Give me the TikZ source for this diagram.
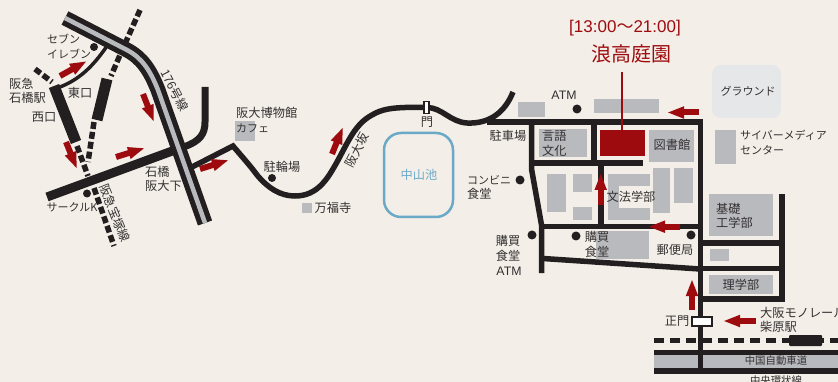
\documentclass[tikz,border=0pt]{standalone}
\usepackage{fontspec}
\setmainfont{Noto Sans CJK JP}
\newfontfamily\latinf{Liberation Sans}
\usetikzlibrary{arrows.meta}
\definecolor{bgc}{HTML}{F3EEE7}
\definecolor{ink}{HTML}{231F20}
\definecolor{txtc}{HTML}{333031}
\definecolor{grayb}{HTML}{B9BABD}
\definecolor{groundc}{HTML}{E6E7E8}
\definecolor{redc}{HTML}{9E0B0F}
\definecolor{pondc}{HTML}{6BA9C8}
\newcommand{\kanasize}{\fontsize{11}{14.5}\selectfont}
\tikzset{
  x=1pt,y=-1pt,
  lbl/.style={inner sep=0pt,text=txtc,font=\fontsize{12.2}{14.5}\selectfont,align=left},
  kana/.style={lbl,font=\kanasize},
  bldg/.style={fill=grayb,draw=none},
  road/.style={draw=ink,line width=5.5pt},
  railblock/.style={draw=ink,line width=11pt},
  raildash/.style={draw=ink,line width=5.5pt,dash pattern=on 7pt off 3pt},
  redarrow/.style={draw=redc,line width=6pt,-{Triangle[length=17pt,width=11pt,fill=redc]}},
  dot/.style={circle,fill=ink,inner sep=0pt,minimum size=9pt},
}
\begin{document}
\begin{tikzpicture}
\useasboundingbox (0,0) rectangle (838,382);
\clip (0,0) rectangle (838,382);
\fill[bgc] (0,0) rectangle (838,382);
% buildings
\fill[groundc,rounded corners=9pt] (712,65) rectangle (781,118);
\fill[bldg] (518,102) rectangle (545,117);
\fill[bldg] (594,99) rectangle (659,113);
\fill[bldg] (539,129) rectangle (587,157);
\fill[bldg] (649,130) rectangle (694,162);
\fill[bldg] (715,130) rectangle (736,164);
\fill[bldg] (547,174) rectangle (566,212);
\fill[bldg] (573,174) rectangle (592,192);
\fill[bldg] (573,207) rectangle (592,220);
\fill[bldg] (607.7,174) rectangle (650,186);
\fill[bldg] (607.7,174) rectangle (619,220);
\fill[bldg] (607.7,208) rectangle (650,220);
\fill[bldg] (653,168) rectangle (670,213);
\fill[bldg] (674,168) rectangle (693,203);
\fill[bldg] (709,194) rectangle (773,236);
\fill[bldg] (710,249) rectangle (729,261);
\fill[bldg] (709,275) rectangle (773,294);
\fill[bldg] (596,231) rectangle (649,259);
\fill[bldg] (235,121) rectangle (255,141);
\fill[bldg] (302,203) rectangle (312,213);
% expressway
\fill[bldg] (654,355) rectangle (838,369);
\fill[ink] (654,349.5) rectangle (838,355);
\fill[ink] (654,368) rectangle (838,373.5);
% pond
\node[draw=pondc,line width=2.5pt,rounded corners=17pt,minimum width=69pt,minimum height=84pt,inner sep=0pt] (pond) at (418.5,175) {};
% left railways
\draw[raildash] (140,10) -- (120,55) -- (111,76);
\draw[railblock] (107,79) -- (97,120);
\draw[raildash] (94,122) -- (88,162);
\draw[raildash] (35,69) -- (52,82);
\draw[railblock] (54,86) -- (76,142);
\draw[raildash] (77,146) -- (88,176);
\draw[raildash] (94,188) -- (114,246);
% small road
\draw[draw=ink,line width=3.5pt] (107,46) .. controls (92,68) and (78,80) .. (60,87);
% road through Ishibashi
\draw[draw=ink,line width=9pt] (47,197) -- (175,150);
\draw[draw=ink,line width=7pt] (175,150) -- (185,146.5) .. controls (200,141) and (205,134) .. (205,122) -- (205,87);
% Handai-zaka road
\draw[road] (190,168) -- (233,146) .. controls (245,160) and (252,168) .. (257,175) .. controls (268,188) and (280,196) .. (295,196) .. controls (318,196) and (328,178) .. (337,162) .. controls (348,142) and (355,124) .. (372,115) .. controls (382,109) and (392,108) .. (405,107.5) -- (427,107.5) .. controls (442,107.5) and (450,122) .. (467,123) .. controls (490,124) and (505,112) .. (513,92);
% highway 176
\draw[draw=ink,line width=15pt] (65,18) -- (127,50) .. controls (142,58) and (150,70) .. (158,90) -- (205,223);
\draw[draw=grayb,line width=4.5pt] (65,18) -- (127,50) .. controls (142,58) and (150,70) .. (158,90) -- (205,223);
% campus roads
\draw[road] (487,122) -- (703,122);
\draw[road] (700.7,122) -- (700.7,369);
\draw[road] (531.7,122) -- (531.7,170) -- (541.7,226) -- (541.7,273);
\draw[road] (594,122) -- (594,163);
\draw[road] (531,163) -- (643,163);
\draw[road] (601,163) -- (601,226);
\draw[road] (541,226.5) -- (700,226.5);
\draw[road] (543,258.5) -- (700,269);
\draw[road] (700,243) -- (782,243);
\draw[road] (782,194) -- (782,301.7);
\draw[road] (700,268.5) -- (782,268.5);
\draw[road] (700,299) -- (784.7,299);
% monorail
\draw[draw=ink,line width=5pt,dash pattern=on 10pt off 6pt] (654,340) -- (838,340);
\fill[ink,rounded corners=1pt] (789,335) rectangle (822,346);
% destination
\fill[redc] (600,130) rectangle (645,156);
\draw[redc,line width=2pt] (622,72) -- (622,130);
% gates
\node[draw=ink,fill=white,line width=2pt,minimum width=20pt,minimum height=8.5pt,inner sep=0pt] (seimon) at (701.5,321.5) {};
\node[draw=ink,fill=white,line width=1.3pt,minimum width=5pt,minimum height=12.5pt,inner sep=0pt] (mongate) at (426.5,107.5) {};
% dots
\node[dot,minimum size=8pt] (d1) at (94,47) {};
\node[dot,minimum size=8pt] (d2) at (87,193.5) {};
\node[dot,minimum size=8pt] (d3) at (272,178) {};
\node[dot] (d4) at (520,180) {};
\node[dot] (d5) at (577,109) {};
\node[dot] (d6) at (532,235) {};
\node[dot] (d7) at (576,236) {};
\node[dot] (d8) at (691,235) {};
% arrows
\draw[redarrow] (60,76) -- (87,61);
\draw[redarrow] (116,157) -- (145,148);
\draw[redarrow] (66,142) -- (77,169);
\draw[redarrow] (143,94) -- (154,122);
\draw[redarrow] (200,169) -- (229,160);
\draw[redarrow] (332,154) -- (343,127);
\draw[redarrow] (699,112.5) -- (667,112.5);
\draw[redarrow] (600.7,205) -- (600.7,173);
\draw[redarrow] (680,226.7) -- (648,226.7);
\draw[redarrow] (692,310) -- (692,279);
\draw[redarrow] (756,321) -- (723,321);
% labels
\node[kana,anchor=west] (t1) at (47,46.5) {セブン\\イレブン};
\node[lbl,anchor=west] (t2) at (9,91) {阪急\\石橋駅};
\node[lbl] (t3) at (80,93) {東口};
\node[lbl] (t4) at (44,117) {西口};
\node[lbl,rotate=-63] (t5) at (175,90.5) {176号線};
\node[lbl,anchor=west] (t6) at (145,179) {石橋\\阪大下};
\node[kana] (t7) at (72,207) {サークルK};
\node[lbl,rotate=-68] (t8) at (115,213) {阪急宝塚線};
\node[lbl,anchor=west] (t9) at (236,120) {阪大博物館\\{\kanasize カフェ}};
\node[lbl] (t10) at (282,167) {駐輪場};
\node[lbl] (t11) at (333,208) {万福寺};
\node[lbl,rotate=62] (t12) at (357,150) {阪大坂};
\node[lbl] (t13) at (427,122) {門};
\node[lbl,text=pondc] (t14) at (419,175) {中山池};
\node[lbl,anchor=west] (t15) at (467,187.5) {{\kanasize コンビニ}\\食堂};
\node[lbl] (t16) at (508,136) {駐車場};
\node[lbl,font=\latinf\fontsize{12.3}{14}\selectfont] (t17) at (564,95.5) {ATM};
\node[lbl,anchor=west] (t18) at (542,143.5) {言語\\文化};
\node[lbl] (t19) at (672,145) {図書館};
\node[kana] (t20) at (748,91) {グラウンド};
\node[kana,anchor=west] (t21) at (740,142.5) {サイバーメディア\\センター};
\node[lbl] (t22) at (631,197) {文法学部};
\node[lbl,align=center] (t23) at (508,248.5) {購買\\食堂};
\node[lbl,font=\latinf\fontsize{12.3}{14}\selectfont] (t24) at (509,271.5) {ATM};
\node[lbl,align=center] (t25) at (597,244.5) {購買\\食堂};
\node[lbl] (t26) at (675,250) {郵便局};
\node[lbl,anchor=west] (t27) at (716,216) {基礎\\工学部};
\node[lbl] (t28) at (741,285) {理学部};
\node[lbl] (t29) at (677,321) {正門};
\node[lbl,anchor=west] (t30) at (760,320) {大阪モノレール\\柴原駅};
\node[lbl,font=\fontsize{10.4}{12}\selectfont] (t31) at (776,361) {中国自動車道};
\node[lbl,font=\fontsize{10.4}{12}\selectfont] (t32) at (776,380.5) {中央環状線};
\node[lbl,text=redc,font=\latinf\fontsize{17}{19}\selectfont] (t33) at (625,28.5) {[13:00{\fontspec{Noto Sans CJK JP}～}21:00]};
\node[lbl,text=redc,font=\fontsize{20}{22}\selectfont] (t34) at (631,54) {浪高庭園};
\end{tikzpicture}
\end{document}
